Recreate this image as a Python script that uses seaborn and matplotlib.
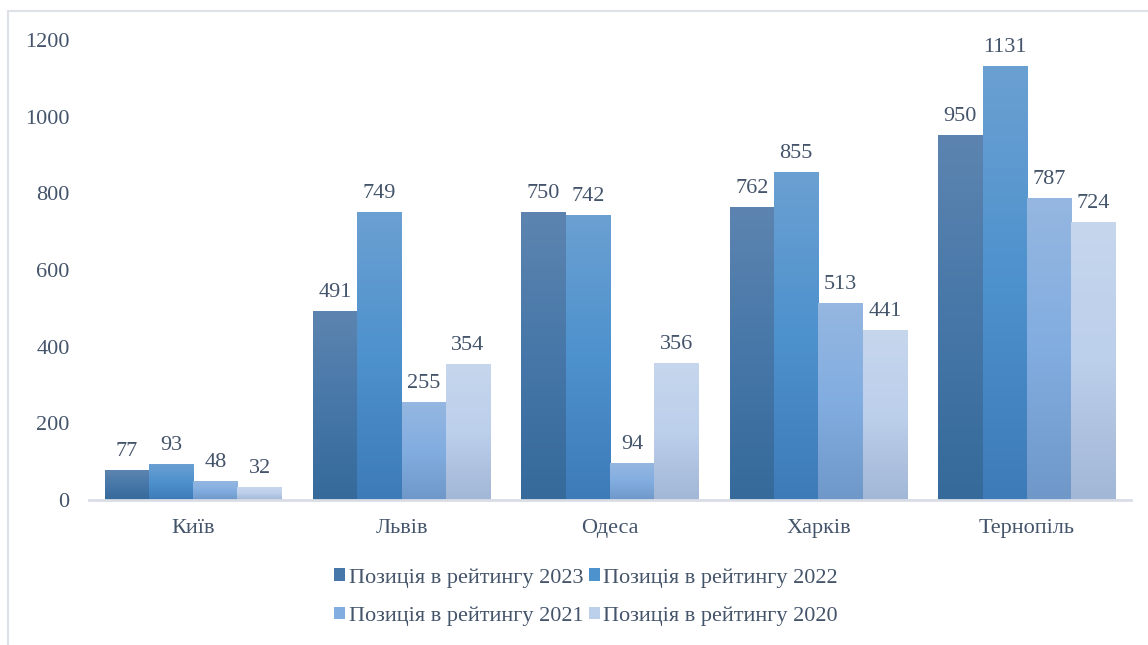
import numpy as np
import pandas as pd
import matplotlib
matplotlib.use("Agg")
import matplotlib.pyplot as plt
from matplotlib.colors import LinearSegmentedColormap
from matplotlib.lines import Line2D
from matplotlib.patches import Patch
import seaborn as sns

cities = ["Київ", "Львів", "Одеса", "Харків", "Тернопіль"]
series = ["Позиція в рейтингу 2023", "Позиція в рейтингу 2022",
          "Позиція в рейтингу 2021", "Позиція в рейтингу 2020"]
rank_2023 = [77, 491, 750, 762, 950]
rank_2022 = [93, 749, 742, 855, 1131]
rank_2021 = [48, 255, 94, 513, 787]
rank_2020 = [32, 354, 356, 441, 724]
y_ticks = [0, 200, 400, 600, 800, 1000, 1200]

# top / middle / bottom shades of each series' gradient fill
gradients = [
    ["#5d84b0", "#4677a8", "#356a9a"],
    ["#6ba0d2", "#4d91cd", "#3d7bb8"],
    ["#95b7e1", "#82ade0", "#6f98c9"],
    ["#c6d6ed", "#bccfeb", "#a2b6d6"],
]
mid_colors = [g[1] for g in gradients]
text_color = "#44546a"
fs = 16

df = pd.DataFrame({
    "city": cities * 4,
    "series": np.repeat(series, len(cities)),
    "value": rank_2023 + rank_2022 + rank_2021 + rank_2020,
})

sns.set_theme(style="white")
plt.rcParams["font.family"] = ["Liberation Serif", "DejaVu Serif"]

fig = plt.figure(figsize=(11.48, 6.45), dpi=100)
ax = fig.add_axes([89 / 1148, 1 - 500 / 645, (1131 - 89) / 1148, 460 / 645])

sns.barplot(data=df, x="city", y="value", hue="series", order=cities,
            hue_order=series, palette=mid_colors, width=0.85, gap=0,
            legend=False, ax=ax, errorbar=None, saturation=1)

# replace flat fills with vertical gradients
for container, cols in zip(ax.containers, gradients):
    cmap = LinearSegmentedColormap.from_list("g", cols[::-1])
    grad = np.linspace(0, 1, 256).reshape(-1, 1)
    for bar in container:
        x, w, h = bar.get_x(), bar.get_width(), bar.get_height()
        ax.imshow(grad, extent=[x, x + w, 0, h], origin="lower",
                  aspect="auto", cmap=cmap, zorder=2, interpolation="bicubic")
        bar.set_facecolor("none")
        bar.set_edgecolor("none")
    ax.bar_label(container, padding=7, fontsize=fs, color=text_color,
                 clip_on=False)

ax.set_xlim(-0.5, len(cities) - 0.5)
ax.set_ylim(0, 1200)
ax.set_yticks(y_ticks)
ax.set_xlabel("")
ax.set_ylabel("")
for s in ["top", "right", "left"]:
    ax.spines[s].set_visible(False)
ax.spines["bottom"].set_color("#d9dde6")
ax.spines["bottom"].set_linewidth(2)
ax.spines["bottom"].set_zorder(3)
ax.tick_params(axis="both", length=0, labelsize=fs, labelcolor=text_color)
ax.tick_params(axis="y", pad=14)
ax.tick_params(axis="x", pad=14)

# legend filled row by row: 2023, 2022 / 2021, 2020
order = [0, 2, 1, 3]
handles = [Patch(facecolor=mid_colors[i], edgecolor="none") for i in order]
labels = [series[i] for i in order]
fig.legend(handles, labels, loc="center", bbox_to_anchor=(586 / 1148, 1 - 597 / 645),
           ncol=2, frameon=False, fontsize=fs, labelcolor=text_color,
           handlelength=0.5, handleheight=0.5, handletextpad=0.15,
           columnspacing=0.25, labelspacing=0.85)

# chart area frame
fig.add_artist(Line2D([8 / 1148, 8 / 1148], [0, 1 - 11 / 645], color="#dde1e8", lw=1.5))
fig.add_artist(Line2D([8 / 1148, 1], [1 - 11 / 645, 1 - 11 / 645], color="#dde1e8", lw=1.5))

fig.savefig("out.png", dpi=100)
